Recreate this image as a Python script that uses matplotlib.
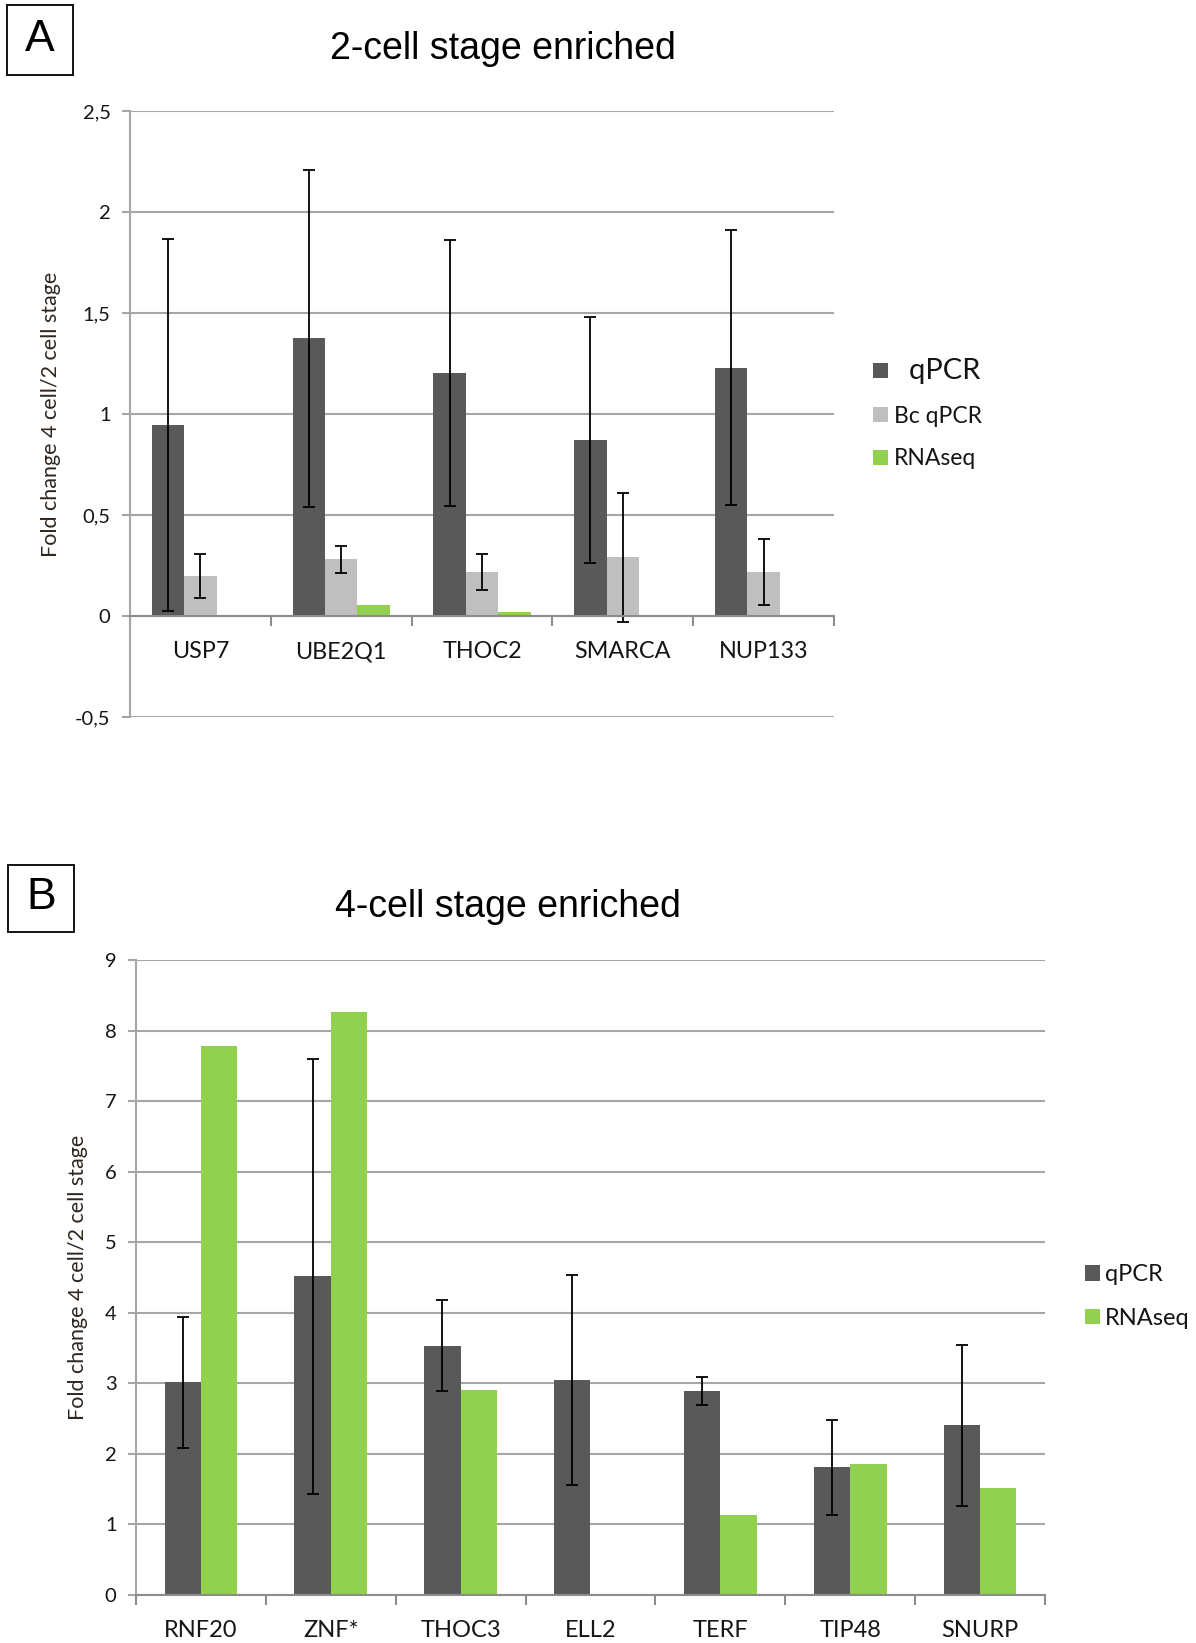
import matplotlib
matplotlib.use("Agg")
import matplotlib.pyplot as plt
import matplotlib.patches as mpatches
import numpy as np

# ---- panel A : 2-cell stage enriched ----
genes_a = ["USP7", "UBE2Q1", "THOC2", "SMARCA", "NUP133"]
qpcr_a = [0.945, 1.375, 1.204, 0.872, 1.23]
qpcr_a_err = [0.92, 0.835, 0.66, 0.61, 0.68]
bc_qpcr_a = [0.197, 0.28, 0.218, 0.29, 0.218]
bc_qpcr_a_err = [0.11, 0.065, 0.088, 0.32, 0.165]
rnaseq_a = [0.0, 0.057, 0.02, 0.0, 0.0]
yticks_a = [-0.5, 0, 0.5, 1, 1.5, 2, 2.5]
yticklabels_a = ["-0,5", "0", "0,5", "1", "1,5", "2", "2,5"]

# ---- panel B : 4-cell stage enriched ----
genes_b = ["RNF20", "ZNF*", "THOC3", "ELL2", "TERF", "TIP48", "SNURP"]
qpcr_b = [3.015, 4.515, 3.535, 3.045, 2.896, 1.81, 2.406]
qpcr_b_err = [0.93, 3.08, 0.65, 1.49, 0.2, 0.67, 1.14]
rnaseq_b = [7.78, 8.27, 2.9, 0.0, 1.13, 1.856, 1.515]
yticks_b = list(range(0, 10))

DARK = "#595959"
LIGHT = "#bfbfbf"
GREEN = "#92d050"
GRID = "#a6a6a6"
TXT = "#151515"
YLAB = "#2e2620"

plt.rcParams["font.family"] = ["Lato", "DejaVu Sans"]

fig = plt.figure(figsize=(11.96, 16.43), dpi=100)


def style_axes(ax, n, ylim, yticks, ylabels, tick_fs, xlab_fs, xpad):
    ax.set_xlim(0, n)
    ax.set_ylim(*ylim)
    ax.set_yticks(yticks)
    ax.set_yticklabels(ylabels, fontsize=tick_fs, color=TXT)
    ax.yaxis.grid(True, color=GRID, linewidth=1.5)
    ax.set_axisbelow(True)
    for s in ("top", "right"):
        ax.spines[s].set_visible(False)
    ax.spines["left"].set_color(GRID)
    ax.spines["left"].set_linewidth(1.5)
    ax.spines["bottom"].set_position(("data", 0))
    ax.spines["bottom"].set_color("#8c8c8c")
    ax.spines["bottom"].set_linewidth(1.5)
    ax.tick_params(axis="y", length=6, width=1.5, color=GRID, pad=8)
    # category boundaries get the tick marks, names sit in between
    ax.set_xticks(np.arange(n + 1))
    ax.set_xticklabels([])
    ax.tick_params(axis="x", which="major", length=7, width=1.5, color="#8c8c8c")
    ax.set_xticks(np.arange(n) + 0.5, minor=True)
    ax.tick_params(axis="x", which="minor", length=0, pad=xpad,
                   labelsize=xlab_fs, labelcolor=TXT)


# panel A
ax_a = fig.add_axes([0.1087, 0.5636, 0.5886, 0.3688])
x = np.arange(len(genes_a)) + 0.5
w = 0.23
err_kw = dict(ecolor="black", elinewidth=1.3, capsize=4, capthick=1.3)
ax_a.bar(x - w, qpcr_a, w, color=DARK, yerr=qpcr_a_err, error_kw=err_kw, label="  qPCR")
ax_a.bar(x, bc_qpcr_a, w, color=LIGHT, yerr=bc_qpcr_a_err, error_kw=err_kw, label="Bc qPCR")
ax_a.bar(x + w, rnaseq_a, w, color=GREEN, label="RNAseq")
style_axes(ax_a, len(genes_a), (-0.5, 2.5), yticks_a, yticklabels_a, 14.5, 16.8, 18)
ax_a.set_xticklabels(genes_a, minor=True)
ax_a.set_ylabel("Fold change 4 cell/2 cell stage", fontsize=15.5, color=YLAB, labelpad=10)

leg_a = ax_a.legend(loc="center left", bbox_to_anchor=(0.730, 0.7483),
                    bbox_transform=fig.transFigure, frameon=False, fontsize=16.5,
                    handlelength=0.65, handleheight=0.65, handletextpad=0.25,
                    labelspacing=0.95, borderpad=0, borderaxespad=0)
leg_a.get_texts()[0].set_fontsize(21)
for t in leg_a.get_texts():
    t.set_color(TXT)

fig.text(0.4206, 0.9704, "2-cell stage enriched", ha="center", va="center",
         fontsize=27, family=["Liberation Sans", "DejaVu Sans"], color="black")
fig.add_artist(mpatches.Rectangle((0.00585, 0.9544), 0.0552, 0.0426,
                                  transform=fig.transFigure, fill=False,
                                  edgecolor="black", linewidth=1.3))
fig.text(0.0334, 0.9757, "A", ha="center", va="center", fontsize=32,
         family=["Liberation Sans", "DejaVu Sans"])

# panel B
ax_b = fig.add_axes([0.1137, 0.0292, 0.76, 0.3865])
x = np.arange(len(genes_b)) + 0.5
w = 0.28
ax_b.bar(x - w / 2, qpcr_b, w, color=DARK, yerr=qpcr_b_err, error_kw=err_kw, label="qPCR")
ax_b.bar(x + w / 2, rnaseq_b, w, color=GREEN, label="RNAseq")
style_axes(ax_b, len(genes_b), (0, 9), yticks_b, [str(v) for v in yticks_b], 14.5, 17, 18)
ax_b.set_xticklabels(genes_b, minor=True)
ax_b.set_ylabel("Fold change 4 cell/2 cell stage", fontsize=15.5, color=YLAB, labelpad=12)

leg_b = ax_b.legend(loc="center left", bbox_to_anchor=(0.907, 0.2109),
                    bbox_transform=fig.transFigure, frameon=False, fontsize=17,
                    handlelength=0.65, handleheight=0.65, handletextpad=0.2,
                    labelspacing=0.95, borderpad=0, borderaxespad=0)
for t in leg_b.get_texts():
    t.set_color(TXT)

fig.text(0.4248, 0.4479, "4-cell stage enriched", ha="center", va="center",
         fontsize=27, family=["Liberation Sans", "DejaVu Sans"], color="black")
fig.add_artist(mpatches.Rectangle((0.00702, 0.4330), 0.0552, 0.0408,
                                  transform=fig.transFigure, fill=False,
                                  edgecolor="black", linewidth=1.3))
fig.text(0.0346, 0.4535, "B", ha="center", va="center", fontsize=32,
         family=["Liberation Sans", "DejaVu Sans"])

fig.savefig("out.png", dpi=100, facecolor="white")
